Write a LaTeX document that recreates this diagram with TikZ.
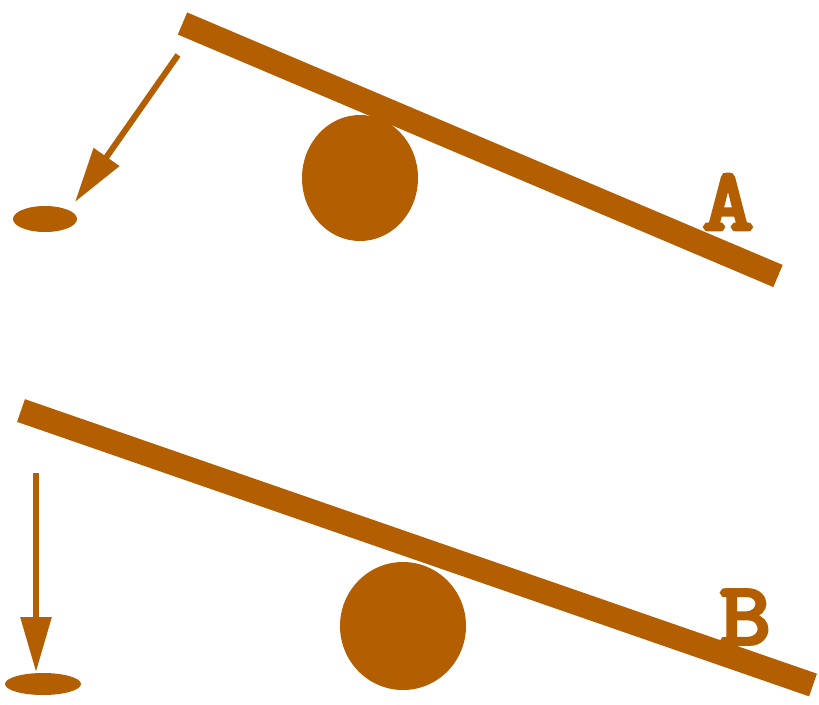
\documentclass[tikz,border=0pt]{standalone}
\usepackage{fontspec}
\newfontfamily\labelfont{Latin Modern Mono}[FakeBold=4.5]
\usetikzlibrary{arrows.meta}
\definecolor{wood}{RGB}{179,94,0}
\tikzset{
  beam/.style={draw=wood, line width=24pt},
  fallarrow/.style={draw=wood, line width=6pt, -{Triangle[length=55pt,width=30pt]}},
  lbl/.style={text=wood, font=\labelfont\fontsize{88}{88}\selectfont, inner sep=0pt, xscale=1.12},
}
\begin{document}
\begin{tikzpicture}[x=1pt,y=-1pt]
\useasboundingbox (0,0) rectangle (819,704);
% --- A ---
\coordinate (a1) at (182.5,23.5);
\coordinate (a2) at (778,276);
\fill[wood] (360,178) ellipse [x radius=58, y radius=63];
\draw[beam] (a1) -- (a2);
\coordinate (as) at (178,55);
\coordinate (at) at (75,202);
\draw[fallarrow] (as) -- (at);
\fill[wood] (45,219) ellipse [x radius=32, y radius=13];
\node[lbl] (la) at (728,202) {A};
% --- B ---
\coordinate (b1) at (21,410.5);
\coordinate (b2) at (813,685);
\fill[wood] (403,626) ellipse [x radius=63, y radius=64];
\draw[beam] (b1) -- (b2);
\coordinate (bs) at (36,473);
\coordinate (bt) at (36,672);
\draw[fallarrow] (bs) -- (bt);
\fill[wood] (43,684) ellipse [x radius=38, y radius=11];
\node[lbl] (lb) at (745,617) {B};
\end{tikzpicture}
\end{document}
